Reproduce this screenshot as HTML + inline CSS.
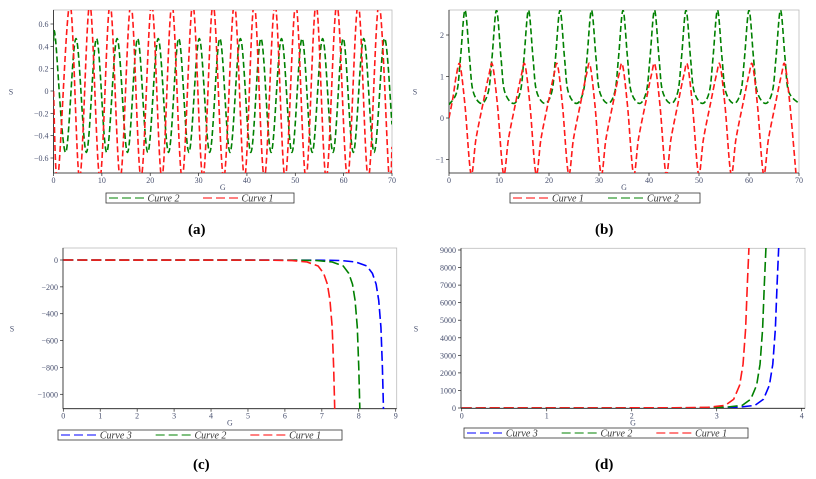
<!DOCTYPE html>
<html><head><meta charset="utf-8"><style>
body{margin:0;background:#fff}
svg{display:block;font-family:"Liberation Serif",serif}
text{font-family:"Liberation Serif",serif}
.tk{font-size:8px;fill:#4a5270}
.ax{font-size:8px;fill:#4a5270}
.cap{font-size:15px;font-weight:bold;fill:#000}
.lg{font-size:10px;font-style:italic;fill:#333}
</style></head><body>
<svg id="fig" width="816" height="479" viewBox="0 0 816 479" font-family="Liberation Serif, serif">
<defs>
<clipPath id="ca"><rect x="53.5" y="10" width="338.5" height="163"/></clipPath>
<clipPath id="cb"><rect x="449" y="10" width="350" height="163"/></clipPath>
<clipPath id="cc"><rect x="63" y="248" width="333" height="161"/></clipPath>
<clipPath id="cd"><rect x="461" y="248" width="344" height="160"/></clipPath>
</defs>
<text class="cap" x="188" y="234" font-family="Liberation Serif, serif">(a)</text>
<text class="cap" x="595" y="234" font-family="Liberation Serif, serif">(b)</text>
<text class="cap" x="193" y="469" font-family="Liberation Serif, serif">(c)</text>
<text class="cap" x="595" y="469" font-family="Liberation Serif, serif">(d)</text>
</svg>
<script>
// Panel (a) data: extrema of each curve (G, S)
const aRedX=[0,0.9,3.4,5.4,7.5,9.6,11.7,13.8,16,18.1,20.3,22.4,24.5,26.6,28.8,30.9,33,35.2,37.4,39.5,41.5,43.6,45.8,47.9,50.1,52.2,54.3,56.4,58.6,60.8,63,65.1,67.3,69.4,70];
const aRedY=[0,-0.78,0.78,-0.78,0.78,-0.78,0.78,-0.78,0.78,-0.78,0.78,-0.78,0.78,-0.78,0.78,-0.78,0.78,-0.78,0.78,-0.78,0.78,-0.78,0.78,-0.78,0.78,-0.78,0.78,-0.78,0.78,-0.78,0.78,-0.78,0.78,-0.78,-0.5];
const aGreenX=[0,0.4,2.5,4.65,6.8,8.9,11,13.15,15.3,17.4,19.5,21.65,23.8,25.9,28,30.15,32.3,34.4,36.5,38.65,40.8,42.9,45,47.15,49.3,51.4,53.5,55.65,57.8,59.9,62,64.15,66.3,68.4,70];
const aGreenY=[0.45,0.47,-0.55,0.47,-0.55,0.47,-0.55,0.47,-0.55,0.47,-0.55,0.47,-0.55,0.47,-0.55,0.47,-0.55,0.47,-0.55,0.47,-0.55,0.47,-0.55,0.47,-0.55,0.47,-0.55,0.47,-0.55,0.47,-0.55,0.47,-0.55,0.47,-0.3];
// Panel (b) data
const bRedPeaks=[2.2,8.7,15.2,21.7,28.2,34.7,41.2,47.7,54.2,60.7,67.2];
const bRedPeakVal=1.28, bRedTroughVal=-1.35, bRedStart=0;
const bGreenPeaks=[3.2,9.5,15.9,22.2,28.5,34.8,41.1,47.4,53.7,60,66.3];
const bGreenPeakVal=2.6, bGreenTroughVal=0.35;
// Panel (c) data
const cRedX=[0,5.5,6.2,6.6,6.9,7.05,7.15,7.22,7.28,7.32,7.35];
const cRedY=[0,-1,-4,-15,-45,-100,-180,-300,-500,-800,-1120];
const cShift=[0,0.68,1.32];
// Panel (d) data
const dRedX=[0,2.5,2.9,3.1,3.2,3.27,3.31,3.34,3.36,3.38];
const dRedY=[0,10,40,150,500,1300,2500,4500,7000,9200];
const dShift=[0,0.2,0.35];

const NS="http://www.w3.org/2000/svg";
const svg=document.getElementById('fig');
function mk(tag,attrs,parent){const e=document.createElementNS(NS,tag);for(const k in attrs)e.setAttribute(k,attrs[k]);if(tag==='text')e.setAttribute('font-family','Liberation Serif, serif');(parent||svg).appendChild(e);return e;}
function smooth(pts){let d="M"+pts[0][0]+","+pts[0][1];for(let i=0;i<pts.length-1;i++){const p0=pts[i-1]||pts[i],p1=pts[i],p2=pts[i+1],p3=pts[i+2]||p2;const c1=[p1[0]+(p2[0]-p0[0])/6,p1[1]+(p2[1]-p0[1])/6],c2=[p2[0]-(p3[0]-p1[0])/6,p2[1]-(p3[1]-p1[1])/6];d+=" C"+c1[0]+","+c1[1]+" "+c2[0]+","+c2[1]+" "+p2[0]+","+p2[1];}return d;}
function frame(P,name){
  const g=mk('g',{});
  
  
  const r=mk('rect',{x:P.l,y:P.t,width:P.r-P.l,height:P.b-P.t,fill:'none',stroke:'#bbb','stroke-width':0.8},g);
  
  
  mk('line',{x1:P.l,y1:P.t,x2:P.l,y2:P.b,stroke:'#222','stroke-width':0.8},g);
  mk('line',{x1:P.l,y1:P.b,x2:P.r,y2:P.b,stroke:'#222','stroke-width':0.8},g);
  P.xt.forEach(v=>{const x=P.sx(v);mk('line',{x1:x,y1:P.b,x2:x,y2:P.b+3,stroke:'#222','stroke-width':0.7},g);
    const t=mk('text',{x:x,y:P.b+10,'text-anchor':'middle',class:'tk'},g);t.textContent=v;
    
    });
  P.yt.forEach(v=>{const y=P.sy(v);mk('line',{x1:P.l-3,y1:y,x2:P.l,y2:y,stroke:'#222','stroke-width':0.7},g);
    const t=mk('text',{x:P.l-5,y:y+3,'text-anchor':'end',class:'tk'},g);t.textContent=(v<0?'\u2212':'')+Math.abs(v);
    
    });
  const gx=mk('text',{x:(P.l+P.r)/2,y:P.b+17,'text-anchor':'middle',class:'ax'},g);gx.textContent='G';
  
  
  const sy=mk('text',{x:P.sl,y:(P.t+P.b)/2+3,'text-anchor':'middle',class:'ax'},g);sy.textContent='S';
  
  
  const lg=mk('g',{},g);
  
  
  mk('rect',{x:P.lg[0],y:P.lg[1],width:P.lg[2],height:10,fill:'#fff',stroke:'#333','stroke-width':0.8},lg);
  const w=P.lg[2]/P.ent.length;
  P.ent.forEach((e,i)=>{const x0=P.lg[0]+i*w+3;
    const en=mk('g',{},lg);
    
    
    mk('line',{x1:x0,y1:P.lg[1]+5,x2:x0+w*0.38,y2:P.lg[1]+5,stroke:e[1],'stroke-width':1,'stroke-dasharray':'9,4'},en);
    const t=mk('text',{x:x0+w*0.41,y:P.lg[1]+8.5,class:'lg'},en);t.textContent=e[0];});
  return g;
}
function curve(d,color,clip,name,dash){const p=mk('path',{d:d,fill:'none',stroke:color,'stroke-width':1.6,'stroke-dasharray':dash||'6,3','clip-path':'url(#'+clip+')'});
  
  }
function lin(a,b,c,d){return v=>c+(v-a)*(d-c)/(b-a);}

// (a)
const A={l:53.5,r:392,t:10,b:173,sx:lin(0,70,53.5,392),sy:lin(0,0.6,91,24),xt:[0,10,20,30,40,50,60,70],yt:[0.6,0.4,0.2,0,-0.2,-0.4,-0.6],sl:11,lg:[106,193,188,0],ent:[['Curve 2','#008000'],['Curve 1','#ff0000']]};
frame(A,'panel-a');
curve(smooth(aGreenX.map((x,i)=>[A.sx(x),A.sy(aGreenY[i])])),'#008000','ca','curve-2-a');
curve(smooth(aRedX.map((x,i)=>[A.sx(x),A.sy(aRedY[i])])),'#ff1a1a','ca','curve-1-a');

// (b)
const B={l:449,r:799,t:10,b:173,sx:lin(0,70,449,799),sy:lin(0,1,118,76.5),xt:[0,10,20,30,40,50,60,70],yt:[2,1,0,-1],sl:415,lg:[510,193,190,0],ent:[['Curve 1','#ff0000'],['Curve 2','#008000']]};
frame(B,'panel-b');
let gp=[[0,0.35]];
bGreenPeaks.forEach(p=>{gp.push([p-3.0,bGreenTroughVal],[p-1.6,0.65],[p-0.9,1.45],[p,bGreenPeakVal],[p+0.9,1.45],[p+1.6,0.65]);});
gp.push([70,0.35]);gp=gp.filter(q=>q[0]>=0&&q[0]<=70).sort((a,b)=>a[0]-b[0]);
curve(smooth(gp.map(q=>[B.sx(q[0]),B.sy(q[1])])),'#008000','cb','curve-2-b');
let rp=[[0,bRedStart],[0.8,0.5],[1.5,1.05]];
bRedPeaks.forEach((p,i)=>{rp.push([p,bRedPeakVal],[p+1.0,0.3],[p+2.2,bRedTroughVal]);
  const nx=bRedPeaks[i+1];if(nx!==undefined){rp.push([p+3.2,-0.5],[p+4.6,0.35],[nx-0.7,1.05]);}});
rp=rp.filter(q=>q[0]<=70.5);
curve(smooth(rp.map(q=>[B.sx(q[0]),B.sy(q[1])])),'#ff1a1a','cb','curve-1-b');

// (c)
const C={l:63,r:396.7,t:248,b:408.7,sx:lin(0,9,63.3,395.7),sy:lin(0,-1000,260,394.3),xt:[0,1,2,3,4,5,6,7,8,9],yt:[0,-200,-400,-600,-800,-1000],sl:12,lg:[58,430,284,0],ent:[['Curve 3','#0000ff'],['Curve 2','#008000'],['Curve 1','#ff0000']]};
frame(C,'panel-c');
[['#0000ff',2,'curve-3-c'],['#008000',1,'curve-2-c'],['#ff1a1a',0,'curve-1-c']].forEach(s=>{
  const pts=cRedX.map((x,i)=>[C.sx(x+(i>0?cShift[s[1]]:0)),C.sy(cRedY[i])]);
  curve("M"+pts.map(p=>p.join(',')).join(' L'),s[0],'cc',s[2],'10,4');});

// (d)
const D={l:461,r:805,t:248.3,b:408.3,sx:lin(0,4,461.7,801.7),sy:lin(0,9000,408,250),xt:[0,1,2,3,4],yt:[0,1000,2000,3000,4000,5000,6000,7000,8000,9000],sl:416,lg:[464,428,284,0],ent:[['Curve 3','#0000ff'],['Curve 2','#008000'],['Curve 1','#ff0000']]};
frame(D,'panel-d');
[['#0000ff',2,'curve-3-d'],['#008000',1,'curve-2-d'],['#ff1a1a',0,'curve-1-d']].forEach(s=>{
  const pts=dRedX.map((x,i)=>[D.sx(x+(i>0?dShift[s[1]]:0)),D.sy(dRedY[i])]);
  curve("M"+pts.map(p=>p.join(',')).join(' L'),s[0],'cd',s[2],'10,4');});
</script>
</body></html>
